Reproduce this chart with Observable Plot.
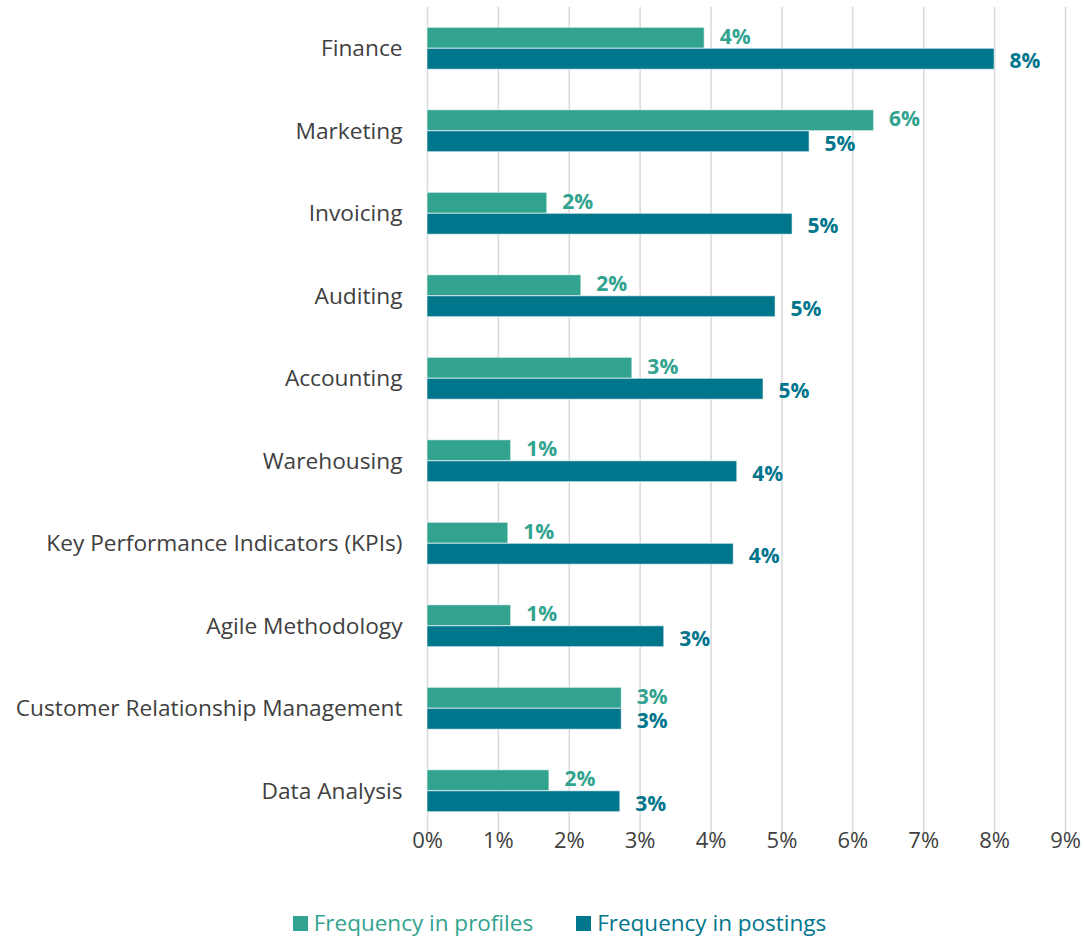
<!DOCTYPE html>
<html>
<head>
<meta charset="utf-8">
<script src="https://cdn.jsdelivr.net/npm/d3@7"></script>
<script src="https://cdn.jsdelivr.net/npm/@observablehq/plot@0.6"></script>
<style>
  html, body { margin: 0; padding: 0; background: #fff; }
  body { width: 1084px; height: 937px; overflow: hidden; font-family: "Open Sans", "Noto Sans", sans-serif; }
  #legend { display: flex; justify-content: center; align-items: center; gap: 43px; margin-top: 29px; margin-left: 35px; font-size: 22.5px; line-height: 28px; }
  .item { display: flex; align-items: center; }
  .sw { width: 15px; height: 15px; margin-right: 6px; }
</style>
</head>
<body>
<div id="chart"></div>
<div id="legend"></div>
<script>
const categories = ["Finance", "Marketing", "Invoicing", "Auditing", "Accounting", "Warehousing",
  "Key Performance Indicators (KPIs)", "Agile Methodology", "Customer Relationship Management", "Data Analysis"];
const profiles = [3.91, 6.30, 1.69, 2.17, 2.89, 1.18, 1.14, 1.18, 2.74, 1.72];
const postings = [8.00, 5.39, 5.15, 4.91, 4.74, 4.37, 4.32, 3.34, 2.74, 2.72];
const xTicks = [0, 1, 2, 3, 4, 5, 6, 7, 8, 9];
const seriesNames = ["Frequency in profiles", "Frequency in postings"];
const colors = ["#31a38f", "#00768c"];

const profRows = categories.map((c, i) => ({category: c, value: profiles[i]}));
const postRows = categories.map((c, i) => ({category: c, value: postings[i]}));

const chart = Plot.plot({
  width: 1084,
  height: 880,
  marginTop: 7,
  marginBottom: 48,
  marginLeft: 427,
  marginRight: 19,
  style: {fontFamily: "'Open Sans', 'Noto Sans', sans-serif", fontSize: "22px", color: "#404040"},
  x: {domain: [0, 9], ticks: xTicks, tickFormat: d => d + "%", tickSize: 0, tickPadding: 0, label: null},
  y: {domain: categories, paddingInner: 0, paddingOuter: 0, round: false, label: null},
  marks: [
    Plot.ruleX(xTicks, {x: d => d, stroke: "#d9d9d9", strokeWidth: 1.5}),
    Plot.barX(profRows, {x: "value", y: "category", fill: colors[0], insetTop: 20.3, insetBottom: 41.3, stroke: "#fff", strokeOpacity: 0.6, strokeWidth: 1}),
    Plot.barX(postRows, {x: "value", y: "category", fill: colors[1], insetTop: 41.3, insetBottom: 20.3, stroke: "#fff", strokeOpacity: 0.6, strokeWidth: 1}),
    Plot.axisY({tickSize: 0, tickPadding: 25, fontSize: 22.7, fill: "#404040", label: null}),
    Plot.text(profRows, {x: "value", y: "category", text: d => Math.round(d.value) + "%", dx: 15, dy: -11.5, textAnchor: "start", fill: colors[0], fontWeight: "bold", fontSize: 21}),
    Plot.text(postRows, {x: "value", y: "category", text: d => Math.round(d.value) + "%", dx: 15, dy: 13, textAnchor: "start", fill: colors[1], fontWeight: "bold", fontSize: 21})
  ]
});
document.getElementById("chart").appendChild(chart);

const legend = document.getElementById("legend");
seriesNames.forEach((n, i) => {
  const item = document.createElement("div");
  item.className = "item";
  item.innerHTML = `<div class="sw" style="background:${colors[i]}"></div><span style="color:${colors[i]}">${n}</span>`;
  legend.appendChild(item);
});
</script>
</body>
</html>
